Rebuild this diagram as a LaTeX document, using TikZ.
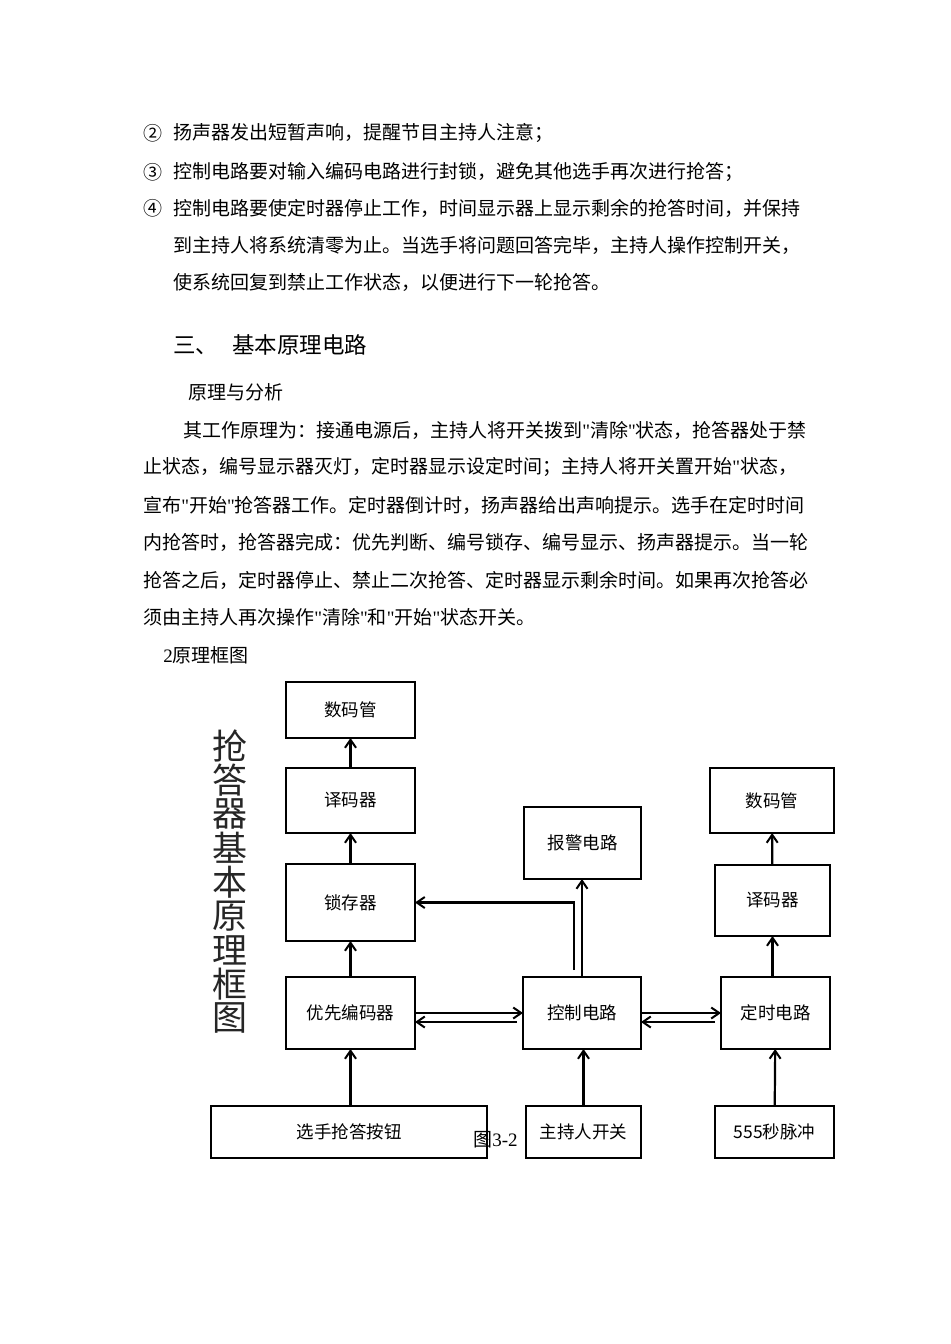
\documentclass[tikz,border=0pt]{standalone}
\usepackage{fontspec}
\setmainfont{Noto Sans CJK SC}[Ligatures=TeXOff]
\newfontfamily\latinfont{Liberation Serif}[Ligatures=TeXOff]
\usepackage{tikz}
\usetikzlibrary{positioning,arrows.meta}

\tikzset{
  blk/.style={draw, line width=1pt, inner sep=0pt, outer sep=0pt,
    font=\fontsize{8.75}{10}\selectfont},
  flow/.style={line width=1.1pt,
    -{Straight Barb[length=4pt,width=5.5pt,line width=1pt]}},
  txt/.style={anchor=west, inner sep=0pt, font=\fontsize{9.5}{11}\selectfont},
  ttl/.style={inner sep=0pt, text=black!85, font=\fontsize{17.5}{18}\selectfont},
}
\newcommand\dq{{\latinfont"}}

\begin{document}
\begin{tikzpicture}[x=0.5pt, y=-0.5pt]
   \useasboundingbox[fill=white] (0,0) rectangle (950,1344);
   % text above the figure
   \node[txt] (c2) at (143,133) {②};
   \node[txt] (l1) at (173,133) {扬声器发出短暂声响，提醒节目主持人注意；};
   \node[txt] (c3) at (143,172) {③};
   \node[txt] (l2) at (173,172) {控制电路要对输入编码电路进行封锁，避免其他选手再次进行抢答；};
   \node[txt] (c4) at (143,208) {④};
   \node[txt] (l3) at (173,208) {控制电路要使定时器停止工作，时间显示器上显示剩余的抢答时间，并保持};
   \node[txt] (l4) at (173,245) {到主持人将系统清零为止。当选手将问题回答完毕，主持人操作控制开关，};
   \node[txt] (l5) at (173,282) {使系统回复到禁止工作状态，以便进行下一轮抢答。};
   \node[txt, font=\fontsize{11.25}{13}\selectfont] (h3) at (173,345) {三、\hspace{7pt}基本原理电路};
   \node[txt] (sub) at (188,392) {原理与分析};
   \node[txt] (p1) at (183,430) {其工作原理为：接通电源后，主持人将开关拨到\dq 清除\dq 状态，抢答器处于禁};
   \node[txt] (p2) at (143,467) {止状态，编号显示器灭灯，定时器显示设定时间；主持人将开关置开始\dq 状态，};
   \node[txt] (p3) at (143,505) {宣布\dq 开始\dq 抢答器工作。定时器倒计时，扬声器给出声响提示。选手在定时时间};
   \node[txt] (p4) at (143,542) {内抢答时，抢答器完成：优先判断、编号锁存、编号显示、扬声器提示。当一轮};
   \node[txt] (p5) at (143,580) {抢答之后，定时器停止、禁止二次抢答、定时器显示剩余时间。如果再次抢答必};
   \node[txt] (p6) at (143,617) {须由主持人再次操作\dq 清除\dq 和\dq 开始\dq 状态开关。};
   \node[txt] (fig) at (163,655) {{\latinfont 2}原理框图};

   % vertical title
   \foreach \c [count=\i from 0] in {抢,答,器,基,本,原,理,框,图}
      \node[ttl] (v\i) at (230,{746+34*\i}) {\c};

   % blocks
   \node[blk, minimum width=64.5pt, minimum height=28pt] (smgL) at (350.5,710) {数码管};
   \node[blk, minimum width=64.5pt, minimum height=32.5pt] (ymqL) at (350.5,800.5) {译码器};
   \node[blk, minimum width=64.5pt, minimum height=38.5pt] (scq) at (350.5,902.5) {锁存器};
   \node[blk, minimum width=64.5pt, minimum height=36pt] (yxbm) at (350.5,1013) {优先编码器};
   \node[blk, minimum width=138pt, minimum height=26pt] (xsan) at (349,1132) {选手抢答按钮};
   \node[blk, minimum width=59pt, minimum height=36pt] (kzdl) at (582,1013) {控制电路};
   \node[blk, minimum width=57.5pt, minimum height=26pt] (zcr) at (583.5,1132) {主持人开关};
   \node[blk, minimum width=58.5pt, minimum height=36pt] (bjdl) at (582.5,843) {报警电路};
   \node[blk, minimum width=54.5pt, minimum height=36pt] (dsdl) at (775.5,1013) {定时电路};
   \node[blk, minimum width=59.5pt, minimum height=26pt] (mc) at (774.5,1132) {555秒脉冲};
   \node[blk, minimum width=57.5pt, minimum height=35.5pt] (ymqR) at (772.5,900.5) {译码器};
   \node[blk, minimum width=62pt, minimum height=32.5pt] (smgR) at (772,800.5) {数码管};
   \node[txt] (cap) at (473,1140) {图{\latinfont 3-2}};

   % connections
   \draw[flow] (ymqL) -- (smgL);
   \draw[flow] (scq) -- (ymqL);
   \draw[flow] (yxbm) -- (scq);
   \draw[flow] (xsan.north -| yxbm) -- (yxbm);
   \draw[flow] (zcr) -- (zcr |- kzdl.south);
   \draw[flow] (mc) -- (dsdl);
   \draw[flow] (ymqR.south |- dsdl.north) -- (ymqR.south);
   \draw[flow] (ymqR) -- (smgR);
   \draw[flow] (yxbm.east) -- (kzdl.west |- yxbm.east);
   \draw[flow] ([shift={(-6,9)}]kzdl.west) -- ([yshift=-4.5pt]yxbm.east);
   \draw[flow] (kzdl.east) -- (dsdl.west);
   \draw[flow] ([shift={(-6,9)}]dsdl.west) -- ([yshift=-4.5pt]kzdl.east);
   \draw[flow] (kzdl.north) -- (kzdl.north |- bjdl.south);
   \draw[flow] ([shift={(-8,-7)}]kzdl.north) |- (scq.east);
\end{tikzpicture}
\end{document}
